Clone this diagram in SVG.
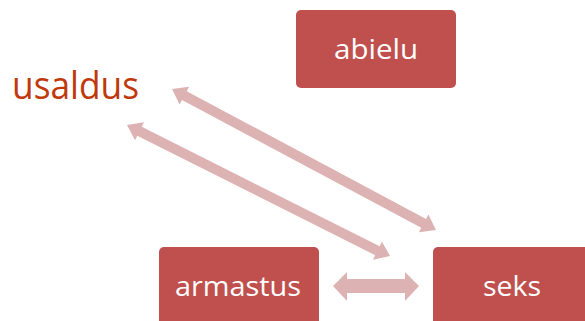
<svg xmlns="http://www.w3.org/2000/svg" width="585" height="321" viewBox="0 0 585 321">
<style>
.box{fill:#C0504D;}
.lbl{font-family:"Open Sans","Liberation Sans",Arial,sans-serif;fill:#FFFFFF;text-anchor:middle;}
.arr{fill:#DDB2B2;}
</style>
<rect width="585" height="321" fill="#FFFFFF"/>
<g id="connectors">
<polygon class="arr" points="172,89 179.64,104.41 181.99,100 421.29,227.82 418.94,232.23 436,230 428.36,214.59 426.01,219 186.71,91.18 189.06,86.77"/>
<polygon class="arr" points="127,125 135.02,140.22 137.27,135.75 375.25,255.19 373,259.66 390,256 381.98,241.78 379.73,246.25 141.75,126.81 144,122.34"/>
<polygon class="arr" points="333,286 347,272 347,279 405,279 405,272 419,286 405,301 405,293 347,293 347,301"/>
</g>
<g id="abielu">
<rect class="box" x="296" y="10" width="160" height="78" rx="5"/>
<text class="lbl" x="376" y="59" font-size="28" textLength="84" lengthAdjust="spacingAndGlyphs">abielu</text>
</g>
<g id="usaldus">
<text x="12" y="99" font-family="Open Sans,Liberation Sans,Arial,sans-serif" font-size="38" fill="#C0390B" textLength="127" lengthAdjust="spacingAndGlyphs">usaldus</text>
</g>
<g id="armastus">
<rect class="box" x="159" y="247" width="160" height="90" rx="5"/>
<text class="lbl" x="238" y="296" font-size="28" textLength="126" lengthAdjust="spacingAndGlyphs">armastus</text>
</g>
<g id="seks">
<rect class="box" x="433" y="247" width="160" height="90" rx="5"/>
<text class="lbl" x="512" y="296" font-size="28" textLength="58" lengthAdjust="spacingAndGlyphs">seks</text>
</g>
</svg>
